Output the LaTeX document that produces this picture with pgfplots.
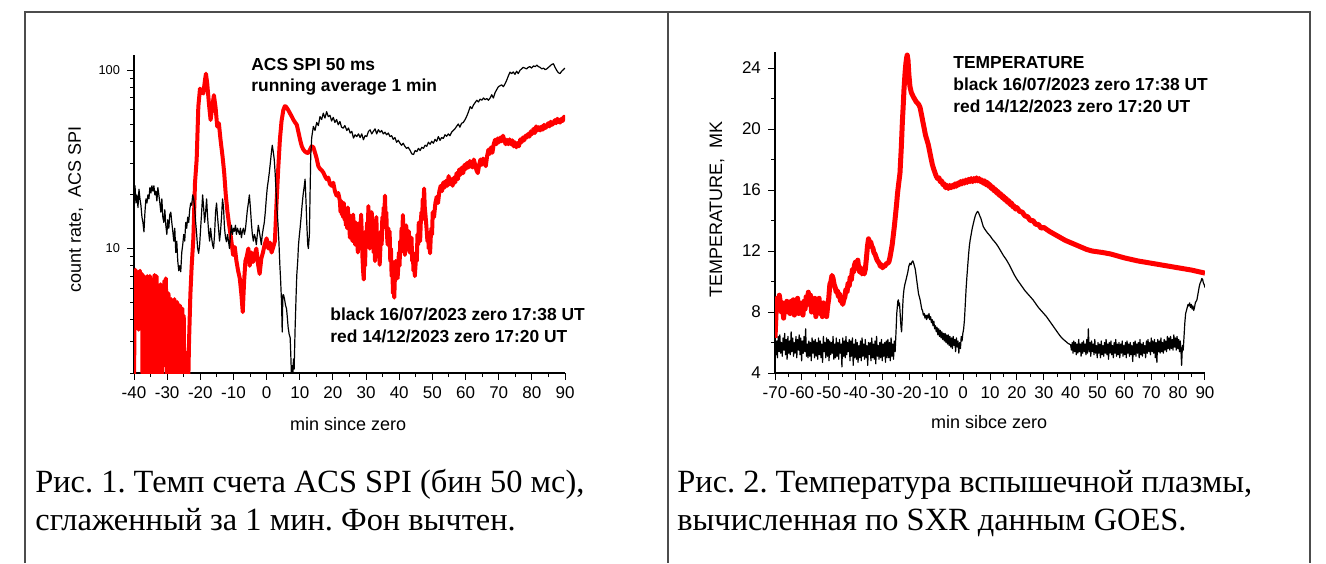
\documentclass[border=0pt]{standalone}
\usepackage{pgfplots}
\pgfplotsset{compat=1.18}
\usepackage{fontspec}
\setmainfont{Liberation Sans}
\newfontfamily\capfont{Liberation Serif}
\frenchspacing
\pgfplotsset{
  myax/.style={
    scale only axis,
    axis lines*=left,
    axis line style={line width=0.7pt},
    tick align=outside,
    major tick length=3.5pt,
    minor tick length=2pt,
    every tick/.append style={black, line width=0.5pt},
    tick label style={font=\fontsize{8.5}{10}\selectfont},
    label style={font=\fontsize{9}{11}\selectfont},
  }
}
\begin{document}
\begin{tikzpicture}
\path[use as bounding box] (0,0) rectangle (663pt,-281.5pt);
\draw[line width=0.9pt, black!70] (12.5pt,-281.5pt) -- (12.5pt,-6pt) -- (655pt,-6pt) -- (655pt,-281.5pt);
\draw[line width=0.9pt, black!70] (334pt,-6pt) -- (334pt,-281.5pt);

% ---------------- Chart 1 ----------------
\begin{axis}[myax,
  at={(67pt,-186.5pt)}, anchor=south west,
  width=215.5pt, height=159pt,
  xmin=-40, xmax=90, ymode=log, ymin=2, ymax=122,
  xtick={-40,-30,...,90},
  xticklabels={-40,-30,-20,-10,0,10,20,30,40,50,60,70,80,90},
  minor xtick={-35,-25,...,85},
  ytick={10,100}, yticklabels={10,100},
  minor ytick={2,3,4,5,6,7,8,9,20,30,40,50,60,70,80,90},
  yticklabel style={font=\fontsize{6.4}{7}\selectfont},
  xlabel={min since zero},
  ylabel={count rate,\ \ ACS SPI},
  xlabel style={at={(axis description cs:0.497,-0.160)}, anchor=center},
  ylabel style={at={(axis description cs:-0.135,0.513)}, anchor=center},
]
\addplot[red, line width=2pt, line join=round] coordinates {
(-40,1.5)(-39.8,6.0)(-39.6,7.6)(-39.4,7.0)(-39.2,4.0)(-39.0,7.4)(-38.8,6.8)(-38.6,3.5)(-38.4,7.2)(-38.2,7.5)(-38.0,3.6)(-37.8,6.5)(-37.6,7.2)(-37.4,1.5)(-37.2,4.5)(-37.0,7.0)(-36.8,6.4)(-36.6,2.5)(-36.4,1.5)(-36.2,5.0)(-36.0,7.0)(-35.8,6.6)(-35.6,3.0)(-35.4,1.5)(-35.2,7.0)(-35.0,6.0)(-34.8,2.0)(-34.6,5.8)(-34.4,5.2)(-34.2,1.5)(-34.0,6.5)(-33.8,7.1)(-33.6,3.0)(-33.4,1.5)(-33.2,7.0)(-33.0,4.2)(-32.8,1.5)(-32.6,3.5)(-32.4,1.5)(-32.2,5.0)(-32.0,6.3)(-31.8,2.5)(-31.6,1.5)(-31.4,4.5)(-31.2,3.0)(-31.0,5.8)(-30.8,6.6)(-30.6,2.2)(-30.4,6.8)(-30.2,4.0)(-30.0,1.5)(-29.8,5.0)(-29.6,5.6)(-29.4,3.0)(-29.2,1.5)(-29.0,4.8)(-28.8,5.2)(-28.6,2.0)(-28.4,5.0)(-28.2,4.5)(-28.0,1.5)(-27.8,5.2)(-27.6,3.0)(-27.4,1.5)(-27.2,4.4)(-27.0,5.0)(-26.8,2.5)(-26.6,1.5)(-26.4,3.6)(-26.2,4.8)(-26.0,3.2)(-25.8,1.5)(-25.6,4.0)(-25.4,4.6)(-25.2,2.0)(-25.0,4.2)(-24.8,1.5)(-24.6,1.5)(-24.3,2.6)(-24.0,1.5)(-23.7,1.5)(-23.4,3.0)(-23.0,5.5)(-22.6,8.0)
(-22.1,11.4)(-21.6,23.4)(-21.1,31.6)(-20.6,62.5)(-20.1,79)(-19.6,75.8)(-19.1,74.2)(-18.6,88)(-18.3,95.8)(-17.9,84)(-17.4,65)(-16.9,52.7)(-16.4,62.5)(-15.9,72.6)(-15.4,62)(-14.9,48.4)(-14.4,50.5)(-13.9,40.8)(-13.3,33)(-12.8,26.7)(-12.3,19.8)(-11.8,16)(-11.4,14)(-11.0,12.4)(-10.6,10.9)(-10.1,9.2)(-9.6,10.2)(-9.1,8.5)(-8.6,7.5)(-8.1,6.8)(-7.6,5.5)(-7.2,4.4)(-6.8,6.5)(-6.4,8.5)(-6.0,9.0)(-5.5,10.0)(-5.1,8.0)(-4.6,9.5)(-4.1,8.4)(-3.6,9.2)(-3.1,10.0)(-2.6,8.2)(-2.1,7.2)(-1.6,8.8)(-1.1,9.5)(-0.6,10.5)(0.0,11.4)(0.5,10.0)(1.0,10.8)(1.5,9.5)(2.0,10.2)(2.5,11.0)(3.0,18.1)(3.5,28)(4.0,40.8)(4.5,52)(5.05,60)(5.5,63)(5.85,62.5)(6.5,60)(7.05,57.4)(7.6,55)(8.1,52.7)(8.6,51)(9.1,49.5)(9.6,45)(10.1,40.8)(10.6,37.5)(11.1,35.9)(11.6,35)(12.1,34.5)(12.6,34.4)(13.1,36)(13.6,37.5)(14.1,37)(14.6,34.5)(15.1,32)(15.6,29)(16.1,28)(16.6,27.5)(17.1,26.7)(17.6,25.5)(18.1,24.5)(18.6,25)(19.1,23)(19.6,22.5)(20.1,23.4)(20.6,21)(21.1,19.8)(21.6,20.5)
(22.1,18.5)(22.3,16)(22.5,18.5)(22.7,15.5)(22.9,17.5)(23.1,15)(23.3,18)(23.5,14.5)(23.7,16.5)(23.9,13.5)(24.1,16)(24.3,13)(24.5,17)(24.7,13.5)(24.9,15.5)(25.1,11.5)(25.3,15)(25.5,12.5)(25.7,14)(25.9,11)(26.1,15.5)(26.3,12)(26.5,13.5)(26.7,10.5)(26.9,14)(27.1,11)(27.3,13.5)(27.5,9.5)(27.7,12.5)(27.9,10.5)(28.1,14)(28.3,11.5)(28.5,15.5)(28.7,12)(28.9,9)(29.1,7.5)(29.3,6.7)(29.5,9.5)(29.7,8)(29.9,12.5)(30.1,10.5)(30.3,14)(30.5,12)(30.7,17.3)(30.9,12.5)(31.1,10)(31.3,13.5)(31.5,11)(31.7,16)(31.9,11.5)(32.1,13)(32.3,9.5)(32.5,11.5)(32.7,8.5)(32.9,13)(33.1,15)(33.3,10.5)(33.5,12)(33.7,9)(33.9,11)(34.1,8.1)(34.3,10)(34.5,12.5)(34.7,10.5)(34.9,15)(35.1,13)(35.3,17)(35.5,15)(35.7,19.8)(35.9,14)(36.1,16)(36.3,12)(36.5,10.5)(36.7,13)(36.9,11)(37.1,12.5)(37.3,8.5)(37.5,10)(37.7,7)(37.9,8.5)(38.1,5.6)(38.3,6.5)(38.5,5.3)(38.7,7)(38.9,8.5)(39.1,6.8)(39.3,8.5)(39.5,6.8)(39.7,7.8)(39.9,9.5)(40.1,8)(40.3,11)(40.5,9.5)(40.7,13)(40.9,11)(41.1,15.4)(41.3,12)(41.5,13.5)(41.7,9.2)(41.9,12)(42.1,13.5)(42.3,10.5)(42.5,12)(42.7,10)(42.9,12.5)(43.1,9.5)(43.3,11)(43.5,10)(43.7,11.5)(43.9,8.5)(44.1,9.5)(44.3,7.5)(44.5,8.5)(44.7,7.0)(44.9,8)(45.1,9.5)(45.3,8.5)(45.5,12)(45.7,10.5)(45.9,14)(46.1,12)(46.3,11)(46.5,14)(46.7,16)(46.9,14.5)(47.1,19)(47.3,17)(47.5,21.7)(47.7,17)(47.9,15.5)(48.1,14)(48.3,12.5)(48.5,11)(48.7,12)(48.9,10)(49.1,11)(49.3,9.4)(49.5,11.5)(49.7,13)(49.9,12)(50.1,16)
(50.5,15)(50.9,18)(51.3,19.5)(51.7,18)(52.1,21)(52.5,22.5)(52.9,21)(53.3,23.5)(53.7,22)(54.1,24)(54.5,22.5)(54.9,25.5)(55.3,23)(55.7,24.5)(56.1,22.5)(56.5,25)(56.9,23.5)(57.3,26.5)(57.7,24.5)(58.1,27.8)(58.5,26)(58.9,28.5)(59.3,26.5)(59.7,29.5)(60.1,28)(60.5,30.3)(60.9,28.5)(61.3,31)(61.7,29.5)(62.1,28.5)(62.5,31.6)(62.9,29.5)(63.3,27.5)(63.7,26.5)(64.1,29.5)(64.5,31.6)(64.9,29.5)(65.3,32)(65.7,30.5)(66.1,29)(66.5,33)(66.9,35.9)(67.3,34)(67.7,37)(68.1,34.5)(68.5,38.5)(68.9,40.8)(69.3,38.5)(69.7,41.5)(70.1,39.5)(70.5,42)(70.9,40)(71.3,43)(71.7,40.5)(72.1,38.5)(72.5,40.8)(72.9,38.5)(73.3,41)(73.7,38.5)(74.1,40.5)(74.5,37.5)(74.9,39.5)(75.3,37)(75.7,39)(76.1,37.5)(76.5,41)(76.9,39.5)(77.3,42)(77.7,40.5)(78.1,43)(78.5,42)(78.9,44)(79.3,42.5)(79.7,45.5)(80.1,44)(80.5,47)(80.9,44.5)(81.3,48.5)(81.7,46)(82.1,48)(82.5,46)(82.9,48.4)(83.3,46.5)(83.7,49.5)(84.1,47.5)(84.5,48.4)(84.9,50.5)(85.3,48.5)(85.7,51.5)(86.1,49.5)(86.5,50.5)(86.9,52.5)(87.3,50.5)(87.7,53.5)(88.1,51.5)(88.5,51)(88.9,53.5)(89.3,52)(89.7,55)(90.0,53)
};
\addplot[black, line width=0.6pt, line join=round] coordinates {
(-40,21)(-39.7,22.5)(-39.4,18)(-39.1,20)(-38.8,17)(-38.5,21.5)(-38.2,19)(-37.9,17.4)(-37.6,15)(-37.3,14)(-37,12.4)(-36.7,16)(-36.4,19)(-36.1,18)(-35.8,20)(-35.5,19)(-35.2,22)(-34.9,20.5)(-34.6,22.5)(-34.3,21)(-34,22.5)(-33.7,20)(-33.4,21)(-33.1,18.5)(-32.8,22)(-32.5,20)(-32.2,18)(-31.9,16)(-31.6,19)(-31.3,15)(-31,14)(-30.7,16.5)(-30.4,13.5)(-30.1,12)(-29.8,14.5)(-29.5,13)(-29.2,15.5)(-28.9,16)(-28.6,14)(-28.3,12.5)(-28,11)(-27.7,13)(-27.4,9.5)(-27.1,11)(-26.8,8.5)(-26.5,7.5)(-26.2,8)(-25.9,7.4)(-25.6,9.5)(-25.3,10.5)(-25,12)(-24.7,11)(-24.4,14)(-24.1,13)(-23.8,15)(-23.5,14)(-23.2,16.5)(-22.9,18)(-22.6,17.5)(-22.3,20)(-22,19)(-21.7,17)(-21.4,14)(-21.1,12)(-20.8,10)(-20.5,9.4)(-20.2,10.5)(-19.9,13)(-19.6,16)(-19.3,20)(-19,17)(-18.7,14)(-18.4,16)(-18.1,19)(-17.8,15)(-17.5,12.5)(-17.2,11)(-16.9,13)(-16.6,11.5)(-16.3,10.5)(-16,10)(-15.7,12)(-15.4,16)(-15.1,18)(-14.8,15)(-14.5,13)(-14.2,11)(-13.9,12.5)(-13.6,15)(-13.3,19)(-13,17)(-12.7,13)(-12.4,11.5)(-12.1,10.9)(-11.8,12)(-11.5,11)(-11.2,10)(-10.9,12)(-10.6,13.5)(-10.3,12)(-10,13)(-9.7,12.5)(-9.4,13.5)(-9.1,12)(-8.8,13)(-8.5,12.5)(-8.2,12)(-7.9,13)(-7.6,11.5)(-7.3,12.5)(-7,13)(-6.7,12)(-6.4,12.8)(-6.1,14.5)(-5.8,16.5)(-5.5,18)(-5.2,20)(-4.9,17)(-4.6,14)(-4.3,12)(-4,11)(-3.7,12)(-3.4,11.5)(-3.1,10.5)(-2.8,12)(-2.5,13.5)(-2.2,12.5)(-1.9,11.5)(-1.6,10.5)(-1.3,12)(-1,13)(-0.7,14)(-0.4,16)(-0.1,19)(0.2,22)(0.5,24)(0.8,26.6)(1.1,30)(1.4,34)(1.7,38)(2.0,35)(2.3,31.6)(2.6,26)(2.9,20)(3.1,17)(3.4,14)(3.7,11)(4.0,8)(4.2,6.8)(4.5,5)(4.7,3.4)(4.9,5.5)(5.1,5.5)(5.4,5.2)(5.7,4.8)(6.0,4.6)(6.2,4.2)(6.5,3.6)(6.8,3.3)(7.1,3.16)(7.3,2.5)(7.5,1.9)(7.7,2.2)(7.9,1.9)(8.1,2.4)(8.3,2.1)(8.6,3.6)(8.9,5.5)(9.1,7.1)(9.4,8.6)(9.6,10.4)(9.9,12)(10.1,13)(10.4,15)(10.7,17.5)(11,20)(11.3,22)(11.6,24.5)(11.9,18)(12.1,14)(12.4,10.5)(12.6,10)(12.9,12)(13.1,20)(13.3,33)(13.6,42)(14.1,48.5)(14.6,46)(15.1,51)(15.6,49)(16.1,55)(16.6,53)(17.1,57.5)(17.6,54)(18.1,58.7)(18.6,55)(19.1,56)(19.6,52)(20.1,54.5)(20.6,51)(21.1,53)(21.6,49.5)(22.1,51.7)(22.6,48)(23.1,47.4)(23.6,49)(24.2,46)(24.7,47.5)(25.2,44.5)(25.7,45.5)(26.2,41.7)(26.7,43.5)(27.2,42.5)(27.7,44)(28.2,42)(28.7,44)(29.2,40.8)(29.7,43)(30.2,42.5)(30.7,45.4)(31.2,46.4)(31.7,44)(32.2,45.5)(32.7,47)(33.2,44)(33.7,46.5)(34.2,45)(34.7,46)(35.2,44)(35.7,45)(36.2,43.5)(36.7,44.5)(37.2,42.5)(37.7,43)(38.2,41)(38.7,42)(39.2,39.5)(39.7,40.5)(40.2,39.1)(40.7,38)(41.2,39)(41.7,37.5)(42.2,36.5)(42.7,37)(43.3,35.5)(43.8,34)(44.3,33.7)(44.8,35.5)(45.3,35)(45.8,36.5)(46.3,35.5)(46.8,37)(47.3,36.5)(47.8,38)(48.3,37.5)(48.8,39.5)(49.3,38.5)(49.8,40)(50.3,39)(50.8,41)(51.3,40)(51.8,42.5)(52.3,40.5)(52.8,42)(53.3,41.5)(53.8,43.5)(54.3,42.7)(54.8,44)(55.3,43)(55.8,45)(56.3,46)(56.8,47)(57.3,48.5)(57.8,50)(58.3,48)(58.8,50.5)(59.3,51)(59.8,52.7)(60.3,55)(60.8,58)(61.4,62.6)(61.9,61)(62.4,64)(62.9,66)(63.4,68)(63.9,66.5)(64.4,69)(64.9,68)(65.4,70)(65.9,68.5)(66.4,69.5)(66.9,68)(67.4,70)(67.9,73)(68.4,70)(68.9,75)(69.4,78)(69.9,81)(70.4,82)(70.9,83)(71.4,81)(71.9,84)(72.4,88)(72.9,93)(73.4,97.8)(73.9,96)(74.4,98)(74.9,95)(75.4,99)(75.9,96)(76.4,100)(76.9,102)(77.4,104)(77.9,103)(78.4,102)(78.9,104)(79.4,105)(79.9,103)(80.5,106)(81,105)(81.5,107)(82,105)(82.5,104)(83,102)(83.5,103)(84,101)(84.5,102)(85,104)(85.5,106)(86,108)(86.5,109)(87,104)(87.5,100)(88,97)(88.5,96)(89,99)(89.5,101)(90,103)
};
\end{axis}
\node[anchor=base west, inner sep=0, font=\bfseries\fontsize{8.7}{10}\selectfont] at (125.5pt,-35pt) {ACS SPI 50 ms};
\node[anchor=base west, inner sep=0, font=\bfseries\fontsize{8.7}{10}\selectfont] at (125.5pt,-45.5pt) {running average 1 min};
\node[anchor=base west, inner sep=0, font=\bfseries\fontsize{8.7}{10}\selectfont] at (165pt,-160.25pt) {black 16/07/2023 zero 17:38 UT};
\node[anchor=base west, inner sep=0, font=\bfseries\fontsize{8.7}{10}\selectfont] at (165pt,-171pt) {red 14/12/2023 zero 17:20 UT};

% ---------------- Chart 2 ----------------
\begin{axis}[myax,
  at={(387.5pt,-186.5pt)}, anchor=south west,
  width=215pt, height=160.5pt,
  xmin=-70, xmax=90, ymin=4, ymax=25.05,
  xtick={-70,-60,...,90},
  xticklabels={-70,-60,-50,-40,-30,-20,-10,0,10,20,30,40,50,60,70,80,90},
  minor xtick={-65,-55,...,85},
  ytick={4,8,...,24}, yticklabels={4,8,12,16,20,24},
  minor ytick={6,10,...,22},
  xlabel={min sibce zero},
  ylabel={TEMPERATURE,\ \ MK},
  xlabel style={at={(axis description cs:0.498,-0.154)}, anchor=center},
  ylabel style={at={(axis description cs:-0.135,0.509)}, anchor=center},
]
\addplot[red, line width=2.5pt, line join=round] coordinates {
(-70,6.3)(-69.6,8.0)(-69.2,8.9)(-68.8,8.3)(-68.4,9.1)(-68,8.6)(-67.6,8.0)(-67.2,8.6)(-66.8,7.6)(-66.4,8.5)(-66,8.2)(-65.6,8.7)(-65.2,8.0)(-64.8,8.6)(-64.4,7.9)(-64,8.7)(-63.6,8.2)(-63.2,8.8)(-62.8,7.8)(-62.4,8.5)(-62,8.3)(-61.6,8.9)(-61.2,7.9)(-60.8,8.6)(-60.4,8.1)(-60,8.4)(-59.6,7.8)(-59.2,8.7)(-58.8,8.2)(-58.4,9.0)(-58,8.5)(-57.6,9.3)(-57.2,8.6)(-56.8,9.1)(-56.4,8.0)(-56,8.8)(-55.6,8.3)(-55.2,8.9)(-54.8,7.7)(-54.4,8.6)(-54,8.2)(-53.6,8.9)(-53.2,7.9)(-52.8,8.4)(-52.4,7.7)(-52,8.6)(-51.6,8.0)(-51.2,8.5)(-50.8,7.7)(-50.4,8.4)(-50,8.9)(-49.6,9.8)(-49.2,10.0)(-48.8,10.4)(-48.4,10.2)(-48,9.8)(-47.6,9.6)(-47.2,9.3)(-46.8,9.4)(-46.4,9.0)(-46,9.2)(-45.6,8.7)(-45.2,8.8)(-44.8,8.5)(-44.4,8.8)(-44,9.0)(-43.6,9.5)(-43.2,9.3)(-42.8,9.9)(-42.4,9.7)(-42,10.3)(-41.6,10.1)(-41.2,10.8)(-40.8,10.6)(-40.4,11.1)(-40,11.3)(-39.6,10.9)(-39.2,11.4)(-38.8,10.8)(-38.4,10.6)(-38,10.9)(-37.6,10.5)(-37.2,10.6)(-36.8,10.5)(-36.4,10.8)(-36,11.5)(-35.6,12.3)(-35.2,12.8)(-34.8,12.5)(-34.4,12.6)(-34,12.3)(-33.6,12.2)(-33.2,11.9)(-32.8,11.8)(-32.4,11.6)(-32,11.4)(-31.6,11.3)(-31.2,11.2)(-30.8,11.0)(-30.4,11.1)(-30,10.9)(-29.6,11.0)(-29.2,11.0)(-28.8,11.1)(-28.4,11.2)(-28,11.2)(-27.6,11.3)(-27.2,11.6)(-26.8,12.0)(-26.4,12.4)(-26,13.0)(-25.6,13.6)(-25.2,14.3)(-24.8,15.0)(-24.4,15.8)(-24,16.4)(-23.5,17.1)(-23,18.8)(-22.6,20.5)(-22.3,21.5)(-22,22.6)(-21.6,23.7)(-21.3,24.3)(-21,24.7)(-20.8,24.85)(-20.5,24.5)(-20.2,23.6)(-19.8,22.8)(-19.3,22.4)(-18.5,22.1)(-17.5,21.8)(-16.5,21.6)(-16,21.4)(-15,20.5)(-14,19.6)(-13,19.0)(-12.3,18.4)(-11.5,17.7)(-11,17.4)
(-10,16.9)(-9.5,16.75)(-9,16.8)(-8.5,16.55)(-8,16.6)(-7.5,16.35)(-7,16.4)(-6.5,16.15)(-6,16.3)(-5.5,16.1)(-5,16.3)(-4.5,16.15)(-4,16.3)(-3.5,16.2)(-3,16.4)(-2.5,16.25)(-2,16.45)(-1.5,16.35)(-1,16.55)(-0.5,16.4)(0,16.6)(0.5,16.45)(1,16.65)(1.5,16.5)(2,16.7)(2.5,16.55)(3,16.75)(3.5,16.55)(4,16.75)(4.5,16.6)(5,16.8)(5.5,16.6)(6,16.75)(6.5,16.55)(7,16.65)(7.5,16.45)(8,16.6)(8.5,16.35)(9,16.5)(9.5,16.25)(10,16.35)(10.5,16.1)(11,16.2)(11.5,15.95)(12,16.05)(12.5,15.8)(13,15.9)(13.5,15.65)(14,15.75)(14.5,15.5)(15,15.6)(15.5,15.35)(16,15.45)(16.5,15.2)(17,15.3)(17.5,15.05)(18,15.15)(18.5,14.9)(19,14.95)(19.5,14.75)(20,14.85)(21,14.6)(22,14.55)(23,14.3)(24,14.25)(25,14.0)(26,14.0)(27,13.75)(28,13.75)(29,13.5)(30,13.55)(32,13.3)(34,13.1)(36,12.9)(38,12.7)(40,12.55)(42,12.4)(44,12.25)(46,12.1)(48,12.0)(50,11.95)(52,11.9)(55,11.8)(60,11.55)(65,11.35)(70,11.2)(75,11.05)(80,10.9)(85,10.75)(90,10.55)
};
\addplot[black, line width=0.6pt, line join=round] coordinates {
(-70.0,6.3)(-69.7,5.2)(-69.4,6.1)(-69.1,5.0)(-68.8,6.4)(-68.5,5.4)(-68.2,6.5)(-67.9,5.3)(-67.6,6.0)(-67.3,5.1)(-67.0,6.3)(-66.7,5.5)(-66.4,6.6)(-66.1,5.2)(-65.8,6.2)(-65.5,4.9)(-65.2,6.4)(-64.9,5.3)(-64.6,6.1)(-64.3,5.2)(-64.0,6.7)(-63.7,5.4)(-63.4,6.3)(-63.1,5.1)(-62.8,6.0)(-62.5,5.3)(-62.2,6.4)(-61.9,5.0)(-61.6,6.2)(-61.3,5.5)(-61.0,6.5)(-60.7,5.2)(-60.4,6.3)(-60.1,4.8)(-59.8,6.1)(-59.5,5.3)(-59.2,6.4)(-58.9,5.4)(-58.6,6.9)(-58.3,5.1)(-58.0,5.9)(-57.7,5.0)(-57.4,6.1)(-57.1,5.1)(-56.8,6.0)(-56.5,4.8)(-56.2,6.3)(-55.9,5.3)(-55.6,6.1)(-55.3,5.0)(-55.0,6.2)(-54.7,5.1)(-54.4,6.0)(-54.1,4.9)(-53.8,6.3)(-53.5,5.2)(-53.2,6.1)(-52.9,5.0)(-52.6,5.9)(-52.3,4.7)(-52.0,6.4)(-51.7,5.4)(-51.4,6.0)(-51.1,5.0)(-50.8,6.3)(-50.5,5.1)(-50.2,6.2)(-49.9,4.8)(-49.6,6.1)(-49.3,5.2)(-49.0,6.0)(-48.7,5.3)(-48.4,6.4)(-48.1,4.9)(-47.8,5.9)(-47.5,5.0)(-47.2,6.3)(-46.9,5.1)(-46.6,6.0)(-46.3,4.9)(-46.0,6.2)(-45.7,5.3)(-45.4,5.9)(-45.1,4.4)(-44.8,6.3)(-44.5,5.1)(-44.2,6.1)(-43.9,5.0)(-43.6,6.4)(-43.3,5.2)(-43.0,6.0)(-42.7,5.4)(-42.4,6.2)(-42.1,4.8)(-41.8,6.1)(-41.5,5.1)(-41.2,6.3)(-40.9,4.5)(-40.6,5.9)(-40.3,5.0)(-40.0,6.2)(-39.7,4.9)(-39.4,6.0)(-39.1,4.7)(-38.8,5.8)(-38.5,5.0)(-38.2,6.1)(-37.9,4.8)(-37.6,6.3)(-37.3,5.1)(-37.0,5.9)(-36.7,4.9)(-36.4,6.2)(-36.1,5.0)(-35.8,5.8)(-35.5,4.5)(-35.2,6.0)(-34.9,5.2)(-34.6,6.0)(-34.3,4.8)(-34.0,6.3)(-33.7,5.0)(-33.4,5.9)(-33.1,4.9)(-32.8,6.1)(-32.5,4.6)(-32.2,6.4)(-31.9,5.1)(-31.6,5.8)(-31.3,4.9)(-31.0,6.0)(-30.7,5.0)(-30.4,6.2)(-30.1,4.8)(-29.8,5.9)(-29.5,5.1)(-29.2,6.0)(-28.9,4.7)(-28.6,6.1)(-28.3,5.0)(-28.0,6.2)(-27.7,5.0)(-27.4,6.0)(-27.1,4.8)(-26.8,6.3)(-26.5,5.1)(-26.2,5.9)(-25.9,4.9)(-25.6,6.1)
(-25.3,5.4)(-25.1,6.2)(-24.9,7.0)(-24.7,7.9)(-24.5,8.3)(-24.3,8.7)(-24.1,8.8)(-23.9,8.4)(-23.7,8.6)(-23.5,8.1)(-23.3,7.5)(-23.1,7.0)(-22.9,6.7)(-22.7,7.4)(-22.5,8.3)(-22.3,9.0)(-22.0,9.5)(-21.7,9.8)(-21.4,10.0)(-21.0,10.3)(-20.6,10.6)(-20.2,11.0)(-19.8,11.2)(-19.4,11.1)(-19.0,11.3)(-18.7,11.35)(-18.4,11.2)(-18.1,11.0)(-17.8,10.8)(-17.5,10.4)(-17.2,10.0)(-16.9,9.6)(-16.6,9.2)(-16.3,9.0)(-16.0,8.8)(-15.7,8.5)(-15.4,8.2)(-15.1,8.1)(-14.8,7.8)(-14.5,7.9)(-14.2,7.6)(-13.9,7.8)(-13.6,7.5)(-13.3,7.8)(-13.0,7.6)(-12.7,7.9)(-12.4,7.5)(-12.1,7.7)(-11.8,7.3)(-11.5,7.5)(-11.2,7.1)(-10.9,7.4)(-10.6,6.9)(-10.3,7.1)(-10.0,6.7)(-9.7,7.0)(-9.4,6.5)(-9.1,6.9)(-8.8,6.4)(-8.5,6.8)(-8.2,6.3)(-7.9,6.7)(-7.6,6.2)(-7.3,6.6)(-7.0,6.1)(-6.7,6.6)(-6.4,6.0)(-6.1,6.5)(-5.8,5.9)(-5.5,6.5)(-5.2,5.8)(-4.9,6.4)(-4.6,5.7)(-4.3,6.3)(-4.0,5.6)(-3.7,6.4)(-3.4,5.8)(-3.1,6.2)(-2.8,5.4)(-2.5,6.3)(-2.2,5.7)(-1.9,6.1)(-1.6,5.3)(-1.3,6.0)(-1.0,5.6)(-0.7,6.4)(-0.4,6.1)(-0.1,6.6)(0.2,6.9)(0.5,7.5)(0.8,8.5)(1.1,9.5)(1.4,10.3)(1.7,11.0)(2.0,11.7)(2.3,12.3)(2.6,12.7)(3.0,13.1)(3.4,13.5)(3.8,13.8)(4.2,14.1)(4.6,14.35)(5.0,14.5)(5.4,14.6)(5.8,14.5)(6.2,14.3)(6.6,14.15)(7.0,13.9)(7.5,13.6)(8,13.45)(9,13.2)(10,13.0)(11,12.75)(12,12.55)(13,12.3)(14,12.0)(15,11.7)(16,11.45)(17,11.15)(18,10.8)(19,10.45)(20,10.15)(21,9.9)(22,9.65)(23,9.4)(24,9.2)(25,9.0)(26,8.8)(27,8.55)(28,8.3)(29,8.1)(30,7.9)(31,7.7)(32,7.45)(33,7.2)(34,6.95)(35,6.7)(36,6.45)(37,6.25)(38,6.1)(39,5.95)(40.0,5.85)
(40.3,5.5)(40.6,6.0)(40.9,5.3)(41.2,6.1)(41.5,5.4)(41.8,6.0)(42.1,5.2)(42.4,5.9)(42.7,5.3)(43.0,6.2)(43.3,5.4)(43.6,5.9)(43.9,5.1)(44.2,6.0)(44.5,5.3)(44.8,6.1)(45.1,5.4)(45.4,5.9)(45.7,5.2)(46.0,6.2)(46.3,5.3)(46.6,6.9)(46.9,5.4)(47.2,6.0)(47.5,5.1)(47.8,6.1)(48.1,5.4)(48.4,5.9)(48.7,5.2)(49.0,6.2)(49.3,5.3)(49.6,5.8)(49.9,5.0)(50.2,6.0)(50.5,5.3)(50.8,5.9)(51.1,5.0)(51.4,6.1)(51.7,5.2)(52.0,5.8)(52.3,5.1)(52.6,6.0)(52.9,5.3)(53.2,6.2)(53.5,5.2)(53.8,5.9)(54.1,4.9)(54.4,6.0)(54.7,5.3)(55.0,6.1)(55.3,5.2)(55.6,5.8)(55.9,5.0)(56.2,6.0)(56.5,5.3)(56.8,6.2)(57.1,5.1)(57.4,5.9)(57.7,5.2)(58.0,6.0)(58.3,5.0)(58.6,5.9)(58.9,5.3)(59.2,6.1)(59.5,5.1)(59.8,5.8)(60.1,5.2)(60.4,6.0)(60.7,5.0)(61.0,6.1)(61.3,5.3)(61.6,5.9)(61.9,5.1)(62.2,6.0)(62.5,5.2)(62.8,5.8)(63.1,4.75)(63.4,6.0)(63.7,5.2)(64.0,6.1)(64.3,5.1)(64.6,5.9)(64.9,5.3)(65.2,6.0)(65.5,5.0)(65.8,6.2)(66.1,5.2)(66.4,5.9)(66.7,5.1)(67.0,6.0)(67.3,5.3)(67.6,5.8)(67.9,5.0)(68.2,6.1)(68.5,5.3)(68.8,6.2)(69.1,5.4)(69.4,6.0)(69.7,5.2)(70.0,6.3)(70.3,5.4)(70.6,6.1)(70.9,5.3)(71.2,6.2)(71.5,5.0)(71.8,6.0)(72.1,4.7)(72.4,6.2)(72.7,5.4)(73.0,6.1)(73.3,5.3)(73.6,6.3)(73.9,5.4)(74.2,6.0)(74.5,5.3)(74.8,6.2)(75.1,5.5)(75.4,6.1)(75.7,5.4)(76.0,6.4)(76.3,5.6)(76.6,6.3)(76.9,5.5)(77.2,6.4)(77.5,5.6)(77.8,6.2)(78.1,5.5)(78.4,6.5)(78.7,5.7)(79.0,6.3)(79.3,5.5)(79.6,6.4)(79.9,5.6)(80.2,6.2)(80.5,5.4)(80.8,6.1)(81.1,5.3)(81.3,4.5)(81.6,5.8)(81.9,5.5)
(82.2,6.4)(82.5,7.3)(82.8,7.9)(83.1,8.1)(83.4,8.3)(83.7,8.5)(84.0,8.4)(84.3,8.6)(84.6,8.3)(84.9,8.5)(85.2,8.2)(85.5,8.4)(85.8,8.1)(86.1,8.3)(86.4,8.6)(86.7,8.7)(87.0,8.8)(87.3,9.1)(87.6,9.4)(87.9,9.7)(88.2,9.9)(88.5,10.0)(88.8,10.2)(89.1,10.15)(89.4,9.9)(89.7,9.8)(90.0,9.6)
};
\end{axis}
\node[anchor=base west, inner sep=0, font=\bfseries\fontsize{8.7}{10}\selectfont] at (476.5pt,-34.25pt) {TEMPERATURE};
\node[anchor=base west, inner sep=0, font=\bfseries\fontsize{8.7}{10}\selectfont] at (476.5pt,-45.25pt) {black 16/07/2023 zero 17:38 UT};
\node[anchor=base west, inner sep=0, font=\bfseries\fontsize{8.7}{10}\selectfont] at (476.5pt,-56.25pt) {red 14/12/2023 zero 17:20 UT};

% ---------------- Captions ----------------
\node[anchor=base west, inner sep=0, font=\capfont\fontsize{16.2}{19}\selectfont] at (17.5pt,-246pt) {Рис. 1. Темп счета ACS SPI (бин 50 мс),};
\node[anchor=base west, inner sep=0, font=\capfont\fontsize{16.2}{19}\selectfont] at (17.5pt,-265pt) {сглаженный за 1 мин. Фон вычтен.};
\node[anchor=base west, inner sep=0, font=\capfont\fontsize{16.2}{19}\selectfont] at (338.5pt,-246pt) {Рис. 2. Температура вспышечной плазмы,};
\node[anchor=base west, inner sep=0, font=\capfont\fontsize{16.2}{19}\selectfont] at (338.5pt,-265pt) {вычисленная по SXR данным GOES.};
\end{tikzpicture}
\end{document}
